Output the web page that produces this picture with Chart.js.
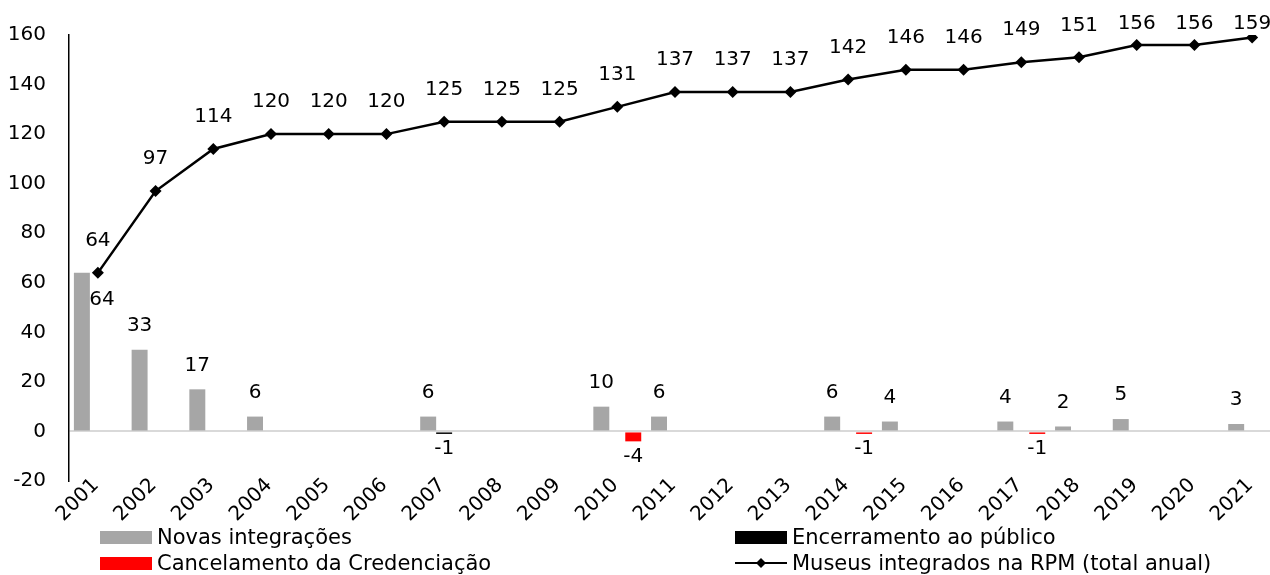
<!DOCTYPE html>
<html lang="pt">
<head>
<meta charset="utf-8">
<script src="https://cdn.jsdelivr.net/npm/chart.js@4"></script>
<style>
  html, body { margin: 0; padding: 0; background: #fff; overflow: hidden; }
  #wrap { position: relative; width: 1287px; height: 575px; }
  #legenda {
    position: absolute; left: 100px; top: 524px;
    display: grid; grid-template-columns: 635px auto; grid-auto-rows: 26px;
    font-family: "DejaVu Sans", sans-serif; font-size: 21px; color: #000;
  }
  .item { display: flex; align-items: center; white-space: nowrap; }
  .caixa { width: 52px; height: 13px; margin-right: 5px; }
  .item svg { margin-right: 5px; }
</style>
</head>
<body>
<div id="wrap">
  <canvas id="grafico" width="1287" height="575"></canvas>
  <div id="legenda"></div>
</div>
<script>
// DADOS
const anos = ["2001", "2002", "2003", "2004", "2005", "2006", "2007", "2008", "2009", "2010", "2011",
              "2012", "2013", "2014", "2015", "2016", "2017", "2018", "2019", "2020", "2021"];
const novasIntegracoes = [64, 33, 17, 6, null, null, 6, null, null, 10, 6, null, null, 6, 4, null, 4, 2, 5, null, 3];
const encerramentoPublico = [null, null, null, null, null, null, -1, null, null, null, null, null, null, null, null, null, null, null, null, null, null];
const cancelamentoCredenciacao = [null, null, null, null, null, null, null, null, null, -4, null, null, null, -1, null, null, -1, null, null, null, null];
const museusIntegrados = [64, 97, 114, 120, 120, 120, 125, 125, 125, 131, 137, 137, 137, 142, 146, 146, 149, 151, 156, 156, 159];
const yTicks = [-20, 0, 20, 40, 60, 80, 100, 120, 140, 160];

const fonte = '"DejaVu Sans", sans-serif';

// ETIQUETAS DE VALORES
const etiquetas = {
    id: "etiquetas",
    afterDatasetsDraw(chart) {
        const ctx = chart.ctx;
        ctx.save();
        ctx.font = "20px " + fonte;
        ctx.fillStyle = "#000";
        ctx.textAlign = "center";
        ctx.textBaseline = "middle";
        chart.data.datasets.forEach((ds, i) => {
            const meta = chart.getDatasetMeta(i);
            meta.data.forEach((el, j) => {
                const v = ds.data[j];
                if (v === null) return;
                let x = el.x, y;
                if (ds.type === "line") {
                    // perto do topo os rótulos ficam encostados ao limite
                    y = Math.max(el.y - 32, 24);
                } else if (v >= 0) {
                    y = el.y - 24;
                    // o primeiro rótulo fica ao lado da barra, como no original
                    if (i === 0 && j === 0) { x += 20; y += 51; }
                } else {
                    y = el.y + 15;
                }
                ctx.fillText(String(v), x, y);
            });
        });
        ctx.restore();
    }
};

// ANOS NO EIXO X (inclinados a 45 graus, sem recorte)
const anosEixo = {
    id: "anosEixo",
    afterDraw(chart) {
        const ctx = chart.ctx;
        const sx = chart.scales.x;
        ctx.save();
        ctx.font = "20px " + fonte;
        ctx.fillStyle = "#000";
        ctx.textAlign = "right";
        ctx.textBaseline = "middle";
        chart.data.labels.forEach((lab, i) => {
            ctx.save();
            ctx.translate(sx.getPixelForValue(i) - 2, chart.chartArea.bottom + 1);
            ctx.rotate(-Math.PI / 4);
            ctx.fillText(lab, 0, 0);
            ctx.restore();
        });
        ctx.restore();
    }
};

const datasets = [
    { type: "bar", label: "Novas integrações", data: novasIntegracoes, backgroundColor: "#a6a6a6", order: 2 },
    { type: "bar", label: "Encerramento ao público", data: encerramentoPublico, backgroundColor: "#000000", order: 2 },
    { type: "bar", label: "Cancelamento da Credenciação", data: cancelamentoCredenciacao, backgroundColor: "#ff0000", order: 2 },
    {
        type: "line", label: "Museus integrados na RPM (total anual)", data: museusIntegrados,
        borderColor: "#000", backgroundColor: "#000", borderWidth: 2.5,
        pointStyle: "rectRot", pointRadius: 6, pointBackgroundColor: "#000", pointBorderWidth: 0,
        tension: 0, order: 1
    }
];

const config = {
    data: { labels: anos, datasets },
    options: {
        responsive: false,
        animation: false,
        layout: { padding: { top: 31, right: 1, bottom: 49, left: 0 } },
        datasets: { bar: { categoryPercentage: 0.83, barPercentage: 1.0 } },
        plugins: { legend: { display: false }, tooltip: { enabled: false } },
        scales: {
            x: {
                type: "category",
                offset: true,
                grid: { display: false },
                border: { display: false },
                ticks: { display: false },
                afterFit(scale) { scale.height = 45; }
            },
            y: {
                min: -20, max: 160,
                afterBuildTicks(scale) { scale.ticks = yTicks.map(v => ({ value: v })); },
                grid: {
                    drawTicks: false,
                    color: c => (c.tick && c.tick.value === 0 ? "#d9d9d9" : "rgba(0,0,0,0)"),
                    lineWidth: 2
                },
                border: { display: true, color: "#000", width: 1.5 },
                ticks: { color: "#000", font: { family: fonte, size: 20 }, padding: 23 },
                afterFit(scale) { scale.width = 69; }
            }
        }
    },
    plugins: [etiquetas, anosEixo]
};

const grafica = new Chart(document.getElementById("grafico"), config);

// LEGENDA EM DUAS COLUNAS
const legenda = document.getElementById("legenda");
datasets.forEach(ds => {
    const item = document.createElement("div");
    item.className = "item";
    if (ds.type === "line") {
        item.innerHTML = '<svg width="52" height="14"><line x1="0" y1="7" x2="52" y2="7" stroke="#000" stroke-width="2"/>' +
            '<polygon points="26,2 31,7 26,12 21,7" fill="#000"/></svg>';
    } else {
        item.innerHTML = '<span class="caixa" style="background:' + ds.backgroundColor + '"></span>';
    }
    const txt = document.createElement("span");
    txt.textContent = ds.label;
    item.appendChild(txt);
    legenda.appendChild(item);
});
</script>
</body>
</html>
